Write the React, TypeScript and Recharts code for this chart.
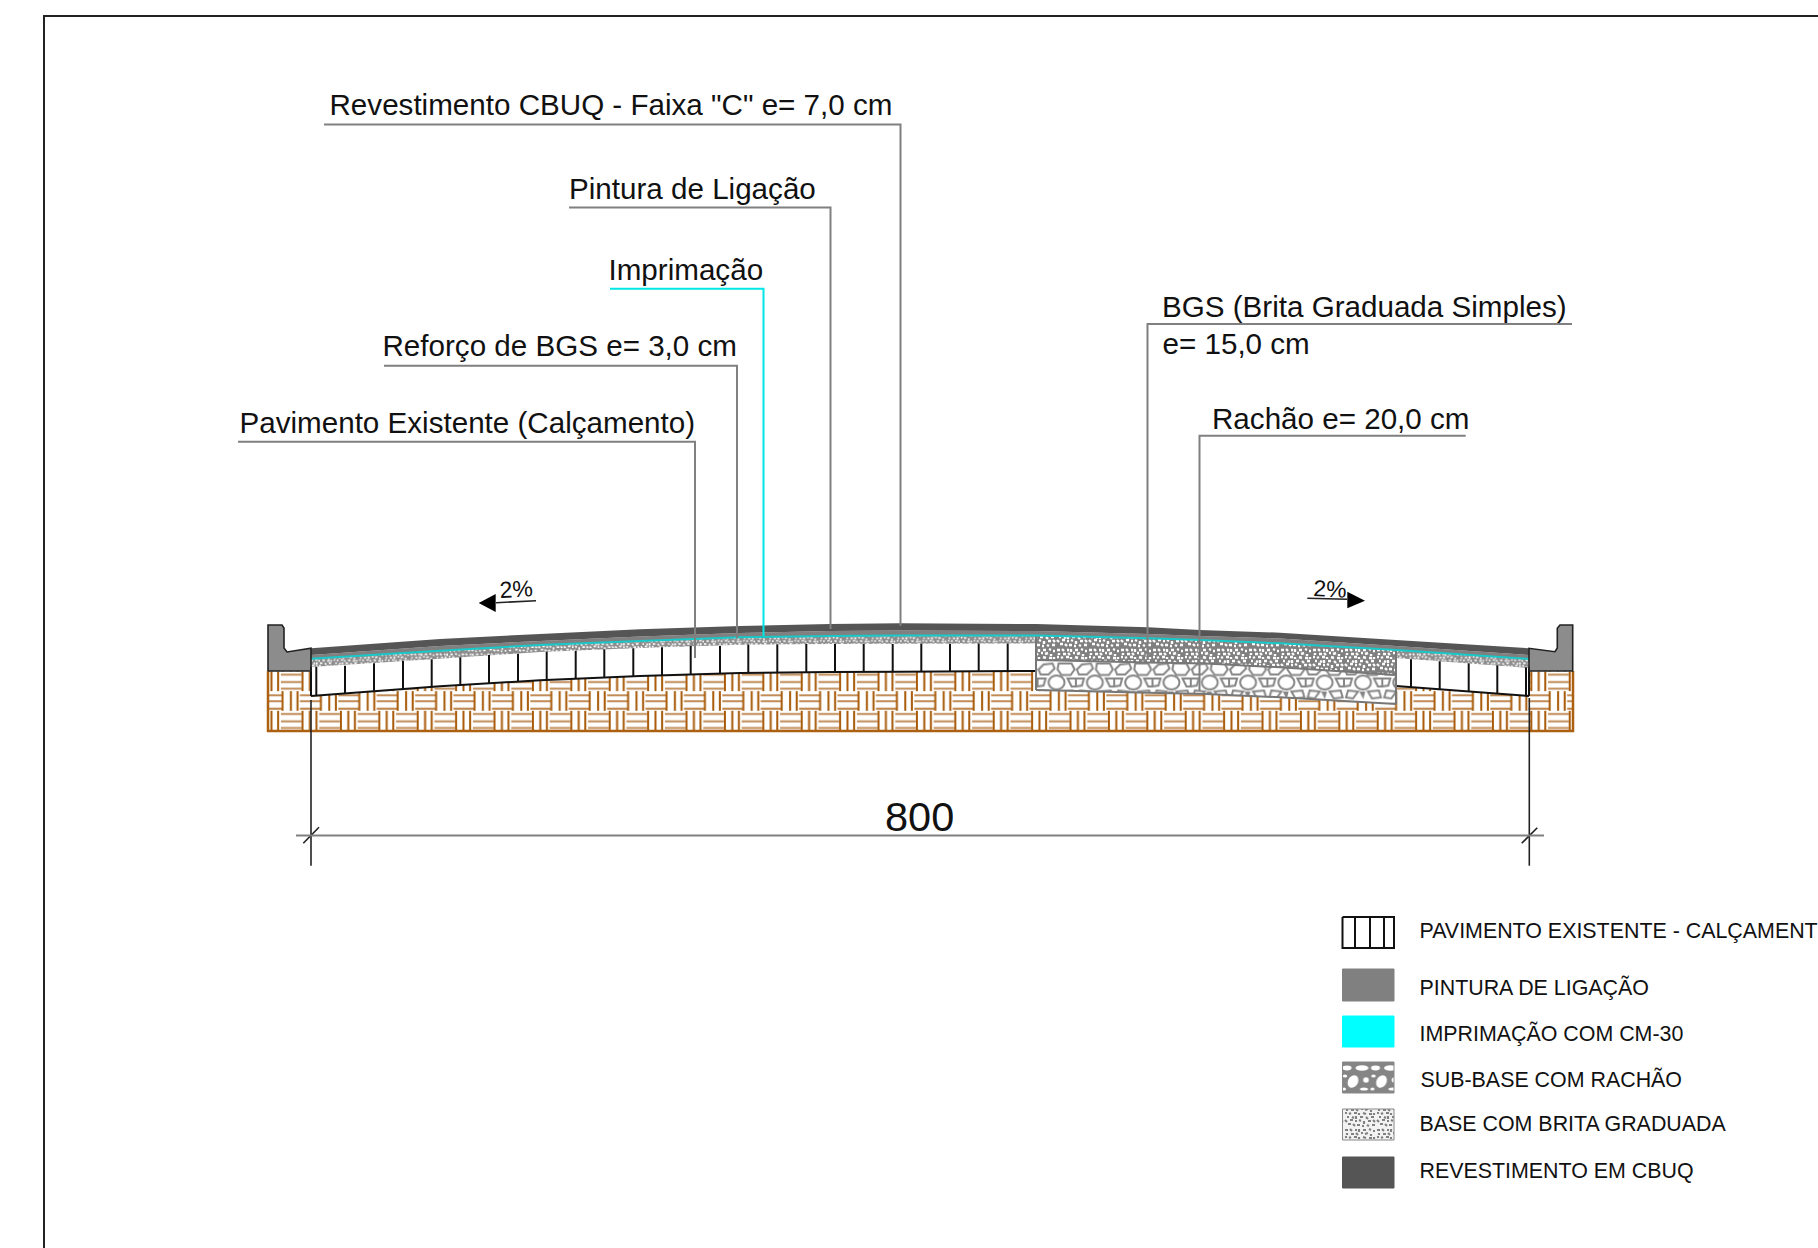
import { ComposedChart, Area, Line, Scatter, XAxis, YAxis } from 'recharts';

// The chart is a road cross-section, values are in drawing units (1 unit = 1 px of the sheet)
const WIDTH = 1818;
const HEIGHT = 1248;
const FONT = '"Liberation Sans", Arial, sans-serif';

const FRAME = [{ x: 44, y: 1248 }, { x: 44, y: 16 }, { x: 1818, y: 16 }];

// road profile, left kerb to right kerb
const ROAD_X = [311, 440, 540, 640, 740, 830, 900, 1036, 1148, 1200, 1280, 1396, 1529];
const CBUQ_TOP = [648.3, 639, 634, 629.3, 626, 624, 623.3, 624, 627.3, 630, 632.7, 640, 648.3];
const CBUQ_SPLIT = [655, 646, 641, 636.5, 633, 631, 630.5, 631, 634, 636, 638.5, 646, 655];
const PRIME_LINE = [658.7, 650.7, 645, 641, 637.3, 636, 635.5, 635.5, 638.3, 640, 643.3, 650, 659];

const LEFT_X = [311, 440, 540, 640, 740, 830, 900, 1036];
const LEFT_PRIME = [658.7, 650.7, 645, 641, 637.3, 636, 635.5, 635.5];
const LEFT_GRAVEL_BOTTOM = [667, 658.8, 652, 648, 644.7, 644, 643.7, 643.5];
const LEFT_PAVER_BOTTOM = [696, 686.2, 680.3, 676, 673, 672, 671.7, 671];

const RIGHT_X = [1396, 1529];
const RIGHT_PRIME = [650, 659];
const RIGHT_GRAVEL_BOTTOM = [658, 668];
const RIGHT_PAVER_BOTTOM = [686, 696];

const BASE_X = [1036, 1148, 1206, 1280, 1396];
const BASE_TOP = [635.5, 638.3, 640.2, 643.3, 650];
const BASE_BOTTOM = [660, 662.5, 663.5, 667.3, 675];
const SUBBASE_BOTTOM = [690, 692.8, 694, 697.3, 704];

const PAVER_X = [316.3, 345, 374, 403, 431.7, 460.3, 489, 518, 546.7, 575.7, 604.3, 633.3, 662, 690.7, 720, 748.3, 777.3, 806.3, 835, 863.7, 892.7, 921.3, 950, 978.7, 1007.7, 1036, 1411, 1439.7, 1468.7, 1497.3, 1526, 1529];
const PAVER_TOP = [666.7, 665.7, 663.3, 661, 659.3, 657.3, 655, 653.7, 651.7, 650.7, 649.3, 648.3, 647.3, 646, 646, 644.5, 644.3, 644, 644, 644, 644, 643.7, 643.7, 643.5, 643.5, 643.5, 659.3, 661.3, 663.3, 665.3, 667.3, 667.5];
const PAVER_BOTTOM = [695, 693.3, 690.7, 689, 686.7, 685, 683.3, 681.7, 680, 679, 677.7, 676.3, 675.3, 674.3, 673.3, 672.7, 672.4, 672.2, 672, 672, 671.7, 671.7, 671.5, 671.3, 671.2, 671, 687.3, 689.3, 691.7, 693.3, 695, 696];

const GROUND_X = [268, 1573];
const GROUND_TOP = [671, 671];
const GROUND_BOTTOM = [731, 731];

const KERB_LEFT_X = [268, 268, 282, 284, 284, 287, 311, 311];
const KERB_LEFT_TOP = [671, 625, 625, 628, 648, 652, 648.3, 671];
const KERB_RIGHT_X = [1529, 1529, 1555, 1557.3, 1557.3, 1560, 1572.7, 1572.7];
const KERB_RIGHT_TOP = [671, 648.3, 651.7, 648, 628.3, 625, 625, 671];

// leader lines from the callouts down to their layer
const LEADERS = [
  { color: '#808080', pts: [[324, 124.5], [900.5, 124.5], [900.5, 626]] },
  { color: '#808080', pts: [[569, 207.5], [830.5, 207.5], [830.5, 629]] },
  { color: '#808080', pts: [[384, 365.7], [737, 365.7], [737, 638]] },
  { color: '#808080', pts: [[238, 441.7], [695, 441.7], [695, 658]] },
  { color: '#808080', pts: [[1147.5, 660], [1147.5, 324], [1572, 324]] },
  { color: '#808080', pts: [[1199.5, 691], [1199.5, 435.7], [1465.7, 435.7]] },
  { color: '#00e5e5', pts: [[610, 288.7], [763.5, 288.7], [763.5, 636]] },
];

const CALLOUTS = [
  { x: 329.5, y: 115, text: 'Revestimento CBUQ - Faixa "C" e= 7,0 cm' },
  { x: 569, y: 199, text: 'Pintura de Ligação' },
  { x: 608.5, y: 279.5, text: 'Imprimação' },
  { x: 382.5, y: 356, text: 'Reforço de BGS e= 3,0 cm' },
  { x: 239.5, y: 433, text: 'Pavimento Existente (Calçamento)' },
  { x: 1162, y: 317, text: 'BGS (Brita Graduada Simples)' },
  { x: 1162.5, y: 353.5, text: 'e= 15,0 cm' },
  { x: 1212, y: 428.5, text: 'Rachão e= 20,0 cm' },
];
const SLOPE_TEXT = [
  { x: 500, y: 598, text: '2%' },
  { x: 1313, y: 596, text: '2%' },
];
const DIMENSION_TEXT = [{ x: 885, y: 830.5, text: '800' }];

const ARROW_LEFT_X = [478.7, 495.7];
const ARROW_LEFT_Y0 = [603, 594];
const ARROW_LEFT_Y1 = [603, 612];
const ARROW_RIGHT_X = [1347.3, 1365];
const ARROW_RIGHT_Y0 = [591.7, 600.7];
const ARROW_RIGHT_Y1 = [608.3, 600.7];

const THIN_BLACK = [
  [[496, 602.7], [536, 600.7]],
  [[1307.3, 598.3], [1347.3, 599.3]],
  [[311, 700], [311, 865.7]],
  [[1529.3, 698], [1529.3, 865.7]],
  [[303.3, 843.3], [319, 827.3]],
  [[1521.7, 843.3], [1537.3, 827.7]],
];
const DIMENSION_LINE = [{ x: 296, y: 835.5 }, { x: 1544, y: 835.5 }];

// legend
const LEGEND_X = [1342.5, 1394];
const LEGEND_ROWS = [
  { name: 'PAVIMENTO EXISTENTE - CALÇAMENT', top: 917, bottom: 948, baseline: 938, fill: '#ffffff', border: '#111111' },
  { name: 'PINTURA DE LIGAÇÃO', top: 969, bottom: 1001, baseline: 995, fill: '#808080', border: '#808080' },
  { name: 'IMPRIMAÇÃO COM CM-30', top: 1016, bottom: 1047, baseline: 1041, fill: '#00ffff', border: '#00ffff' },
  { name: 'SUB-BASE COM RACHÃO', top: 1062, bottom: 1093, baseline: 1087, fill: 'url(#stoneSwatch)', border: '#888888' },
  { name: 'BASE COM BRITA GRADUADA', top: 1109, bottom: 1140, baseline: 1131, fill: 'url(#gravelSwatch)', border: '#888888' },
  { name: 'REVESTIMENTO EM CBUQ', top: 1157, bottom: 1188, baseline: 1178, fill: '#555555', border: '#555555' },
];
const LEGEND_JOINTS = [1355, 1370, 1384];

const toPts = (xs: number[], ys: number[]) => xs.map((x, i) => ({ x, y: ys[i] }));
const toBand = (xs: number[], y0: number[], y1: number[]) => xs.map((x, i) => ({ x, y0: y0[i], y1: y1[i] }));
const pairs = (p: number[][]) => p.map(([x, y]) => ({ x, y }));
const bandKey = (d: any) => [d.y0, d.y1];

const GRAVEL_SPECKS = 'M1 2h3M6 1l2 2M11 2h2M15 1v3M19 2h3M25 1l2 1M29 3h2M3 5v2M7 6h3M12 5l2 2M17 5h2M21 6l3-1M27 6v2M1 9h2M5 10l2-1M10 9h3M15 9v2M19 9l3 1M25 10h3M30 9v2M3 13h2M8 13l2 1M12 12v3M16 13h3M22 13l2 2M27 13h3M1 16l2 2M6 16h3M11 17h2M15 16l2 1M20 17v3M24 17h3M29 16l2 2M4 20h3M9 20l2 2M13 21h3M18 22h2M23 21l2 1M28 21h3';

function Patterns() {
  return (
    <defs>
      <pattern id="weave" patternUnits="userSpaceOnUse" x={741.7} y={671.5} width={38.4} height={39.3}>
        <rect width={38.4} height={39.3} fill="#ffffff" />
        <g stroke="#c08a55" strokeWidth={2}>
          <path d="M0 3.2H20.5M0 10.5H20.5M0 17.2H20.5" />
          <path d="M19 23.8H38.4M19 29.8H38.4M19 37.2H38.4M0 23.8H1M0 29.8H1M0 37.2H1" />
        </g>
        <g stroke="#a85a08" strokeWidth={2}>
          <path d="M21.6 0V19.6M29 0V19.6M35.6 0V19.6" />
          <path d="M1.6 19.6V39.3M10 19.6V39.3M16.6 19.6V39.3" />
        </g>
      </pattern>
      <pattern id="stones" patternUnits="userSpaceOnUse" x={1037.6} y={660.5} width={38.3} height={40}>
        <rect width={38.3} height={40} fill="#ffffff" />
        <g fill="#ffffff" stroke="#858585" strokeWidth={2}>
          <polygon points="1,9 6,4 15,3 17,8 11,14 3,14" />
          <polygon points="21,3 34,3 37,9 33,14.5 24,14.5 20,9" />
          <ellipse cx={19} cy={22} rx={8} ry={7} />
          <polygon points="30,18 38.3,18 38.3,26 34,26" />
          <polygon points="0,18 8,18 6,25 0,26" />
          <polygon points="4,30 14,31 9,38 2,37" />
          <polygon points="24,31 35,30 37,37 28,38" />
          <polygon points="17,32 20,32 19,36" />
        </g>
      </pattern>
      <pattern id="gravel" patternUnits="userSpaceOnUse" width={32} height={24}>
        <rect width={32} height={24} fill="#808080" />
        <path d={GRAVEL_SPECKS} stroke="#ffffff" strokeWidth={2.4} fill="none" />
      </pattern>
      <pattern id="gravelThin" patternUnits="userSpaceOnUse" width={32} height={24} patternTransform="scale(0.8)">
        <rect width={32} height={24} fill="#8c8c8c" />
        <path d={GRAVEL_SPECKS} stroke="#ffffff" strokeWidth={2} fill="none" />
      </pattern>
      <pattern id="gravelSwatch" patternUnits="userSpaceOnUse" width={32} height={24}>
        <rect width={32} height={24} fill="#f2f2f2" />
        <path d={GRAVEL_SPECKS} stroke="#808080" strokeWidth={2.1} fill="none" />
      </pattern>
      <pattern id="stoneSwatch" patternUnits="userSpaceOnUse" x={1342} y={1062} width={28.5} height={31}>
        <rect width={28.5} height={31} fill="#858585" />
        <g fill="#ffffff">
          <ellipse cx={5} cy={6} rx={4.5} ry={2.4} />
          <ellipse cx={20} cy={6} rx={6.5} ry={2.8} />
          <ellipse cx={11} cy={19.5} rx={5} ry={6.5} transform="rotate(30 11 19.5)" />
          <ellipse cx={24} cy={18} rx={2.8} ry={2.8} />
          <ellipse cx={3} cy={14} rx={2.2} ry={1.6} />
          <ellipse cx={22} cy={27} rx={4} ry={1.6} />
          <ellipse cx={2} cy={27} rx={2} ry={1.5} />
        </g>
      </pattern>
    </defs>
  );
}

function labelShape(size: number, rotate = 0) {
  return (p: any) => (
    <text
      x={p.cx}
      y={p.cy}
      fontFamily={FONT}
      fontSize={size}
      fill="#111111"
      transform={rotate ? `rotate(${rotate} ${p.cx} ${p.cy})` : undefined}
    >
      {p.payload.text}
    </text>
  );
}

const bandProps = { type: 'linear' as const, stroke: 'none', dot: false, activeDot: false, isAnimationActive: false, dataKey: bandKey };
const lineProps = { type: 'linear' as const, dataKey: 'y', dot: false, activeDot: false, isAnimationActive: false };

export default function App() {
  const legendLabels = LEGEND_ROWS.map(r => ({ x: r.name.startsWith('SUB') ? 1420.5 : 1419.5, y: r.baseline, text: r.name }));
  return (
    <div style={{ position: 'absolute', left: 0, top: 0, width: WIDTH, height: HEIGHT, overflow: 'hidden', background: '#ffffff' }}>
      <ComposedChart width={WIDTH} height={HEIGHT} margin={{ top: 0, right: 0, bottom: 0, left: 0 }}>
        <Patterns />
        <XAxis type="number" dataKey="x" domain={[0, WIDTH]} hide allowDataOverflow />
        <YAxis type="number" dataKey="y" domain={[0, HEIGHT]} reversed hide allowDataOverflow width={0} />

        <Area {...bandProps} data={toBand(GROUND_X, GROUND_TOP, GROUND_BOTTOM)} fill="url(#weave)" fillOpacity={1} />
        <Area {...bandProps} data={toBand(LEFT_X, LEFT_GRAVEL_BOTTOM, LEFT_PAVER_BOTTOM)} fill="#ffffff" fillOpacity={1} />
        <Area {...bandProps} data={toBand(RIGHT_X, RIGHT_GRAVEL_BOTTOM, RIGHT_PAVER_BOTTOM)} fill="#ffffff" fillOpacity={1} />
        <Area {...bandProps} data={toBand(LEFT_X, LEFT_PRIME, LEFT_GRAVEL_BOTTOM)} fill="url(#gravelThin)" fillOpacity={1} />
        <Area {...bandProps} data={toBand(RIGHT_X, RIGHT_PRIME, RIGHT_GRAVEL_BOTTOM)} fill="url(#gravelThin)" fillOpacity={1} />
        <Area {...bandProps} data={toBand(BASE_X, BASE_BOTTOM, SUBBASE_BOTTOM)} fill="url(#stones)" fillOpacity={1} />
        <Area {...bandProps} data={toBand(BASE_X, BASE_TOP, BASE_BOTTOM)} fill="url(#gravel)" fillOpacity={1} />
        <Area {...bandProps} data={toBand(ROAD_X, CBUQ_SPLIT, PRIME_LINE)} fill="#808080" fillOpacity={1} />
        <Area {...bandProps} data={toBand(ROAD_X, CBUQ_TOP, CBUQ_SPLIT)} fill="#555555" fillOpacity={1} />
        <Area {...bandProps} data={toBand(KERB_LEFT_X, KERB_LEFT_TOP, KERB_LEFT_TOP.map(() => 671))} fill="#8c8c8c" fillOpacity={1} />
        <Area {...bandProps} data={toBand(KERB_RIGHT_X, KERB_RIGHT_TOP, KERB_RIGHT_TOP.map(() => 671))} fill="#8c8c8c" fillOpacity={1} />
        <Area {...bandProps} data={toBand(ARROW_LEFT_X, ARROW_LEFT_Y0, ARROW_LEFT_Y1)} fill="#000000" fillOpacity={1} />
        <Area {...bandProps} data={toBand(ARROW_RIGHT_X, ARROW_RIGHT_Y0, ARROW_RIGHT_Y1)} fill="#000000" fillOpacity={1} />
        {LEGEND_ROWS.map(r => (
          <Area
            key={r.name}
            {...bandProps}
            data={toBand(LEGEND_X, [r.top, r.top], [r.bottom, r.bottom])}
            fill={r.fill}
            fillOpacity={1}
          />
        ))}

        <Line {...lineProps} data={FRAME} stroke="#222222" strokeWidth={2} />

        {/* ground edge */}
        <Line {...lineProps} data={toPts([268, 268, 1573, 1573], [671, 731, 731, 671])} stroke="#ac6010" strokeWidth={2.5} />

        {/* existing pavers */}
        {PAVER_X.map((x, i) => (
          <Line key={x} {...lineProps} data={toPts([x, x], [PAVER_TOP[i], PAVER_BOTTOM[i]])} stroke="#111111" strokeWidth={2} />
        ))}
        <Line {...lineProps} data={toPts(LEFT_X, LEFT_PAVER_BOTTOM)} stroke="#111111" strokeWidth={2} />
        <Line {...lineProps} data={toPts(RIGHT_X, RIGHT_PAVER_BOTTOM)} stroke="#111111" strokeWidth={2} />
        <Line {...lineProps} data={toPts([311, 311], [667, 696])} stroke="#111111" strokeWidth={2} />

        {/* base and sub-base outlines */}
        <Line {...lineProps} data={toPts(BASE_X, BASE_BOTTOM)} stroke="#777777" strokeWidth={2} />
        <Line {...lineProps} data={toPts(BASE_X, SUBBASE_BOTTOM)} stroke="#777777" strokeWidth={2} />
        <Line {...lineProps} data={toPts([1036, 1036], [636, 690])} stroke="#777777" strokeWidth={2} />
        <Line {...lineProps} data={toPts([1396, 1396], [648, 704])} stroke="#777777" strokeWidth={2} />

        <Line {...lineProps} data={toPts(ROAD_X, PRIME_LINE)} stroke="#19c8c8" strokeWidth={2} />

        {/* kerbs */}
        <Line {...lineProps} data={toPts([...KERB_LEFT_X, 268], [...KERB_LEFT_TOP, 671])} stroke="#222222" strokeWidth={1.6} />
        <Line {...lineProps} data={toPts([...KERB_RIGHT_X, 1529], [...KERB_RIGHT_TOP, 671])} stroke="#222222" strokeWidth={1.6} />

        {LEADERS.map(l => (
          <Line key={l.pts[0].join()} {...lineProps} data={pairs(l.pts)} stroke={l.color} strokeWidth={2} />
        ))}
        {THIN_BLACK.map(s => (
          <Line key={s[0].join()} {...lineProps} data={pairs(s)} stroke="#222222" strokeWidth={1.6} />
        ))}
        <Line {...lineProps} data={DIMENSION_LINE} stroke="#808080" strokeWidth={2} />

        {/* legend outlines */}
        {LEGEND_ROWS.map(r => (
          <Line
            key={r.name}
            {...lineProps}
            data={toPts([1342.5, 1342.5, 1394, 1394, 1342.5], [r.top, r.bottom, r.bottom, r.top, r.top])}
            stroke={r.border}
            strokeWidth={r.border === '#111111' ? 2 : 1}
          />
        ))}
        {LEGEND_JOINTS.map(x => (
          <Line key={x} {...lineProps} data={toPts([x, x], [917, 948])} stroke="#111111" strokeWidth={2} />
        ))}

        <Scatter data={CALLOUTS} shape={labelShape(29.6)} isAnimationActive={false} />
        <Scatter data={SLOPE_TEXT.slice(0, 1)} shape={labelShape(23, -3)} isAnimationActive={false} />
        <Scatter data={SLOPE_TEXT.slice(1)} shape={labelShape(23, 3)} isAnimationActive={false} />
        <Scatter data={DIMENSION_TEXT} shape={labelShape(41.5)} isAnimationActive={false} />
        <Scatter data={legendLabels} shape={labelShape(21.4)} isAnimationActive={false} />
      </ComposedChart>
    </div>
  );
}
